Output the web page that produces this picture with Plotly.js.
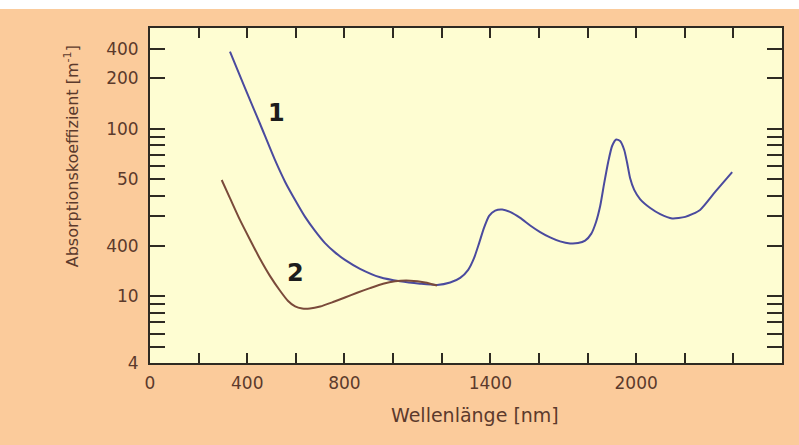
<!DOCTYPE html>
<html>
<head>
<meta charset="utf-8">
<script src="https://cdn.plot.ly/plotly-3.0.1.min.js"></script>
<style>html,body{margin:0;padding:0;background:#fff;}#chart{width:799px;height:445px;}</style>
</head>
<body>
<div id="chart"></div>
<script>
// Curve 1 (blue)
const wavelength1 = [329, 391, 453, 514, 556, 597, 638, 679, 720, 761, 802, 864, 947, 1029, 1111, 1181, 1235, 1276, 1309, 1333, 1354, 1374, 1395, 1420, 1449, 1481, 1523, 1564, 1605, 1646, 1687, 1728, 1761, 1790, 1815, 1835, 1852, 1868, 1885, 1901, 1918, 1934, 1951, 1963, 1975, 1992, 2016, 2058, 2099, 2148, 2202, 2263, 2325, 2395];
const absorption1 = [289, 175, 106.9, 65.2, 48.2, 37.6, 29.8, 24.6, 20.8, 18.3, 16.5, 14.6, 13.0, 12.3, 11.9, 11.7, 12.1, 12.9, 14.4, 16.9, 20.8, 25.6, 30.2, 32.5, 33.0, 31.9, 29.4, 26.5, 24.2, 22.5, 21.3, 20.7, 20.8, 21.5, 23.6, 27.8, 34.6, 46.9, 63.4, 79.0, 86.4, 84.6, 74.8, 62.5, 50.9, 43.2, 38.1, 33.7, 31.0, 29.2, 29.8, 32.8, 42.0, 55.2];
// Curve 2 (brown)
const wavelength2 = [295, 329, 370, 412, 453, 494, 535, 568, 597, 626, 658, 700, 753, 802, 852, 905, 959, 1008, 1070, 1132, 1181];
const absorption2 = [49.5, 38.6, 28.6, 21.7, 16.7, 13.2, 10.8, 9.38, 8.70, 8.46, 8.46, 8.70, 9.25, 9.84, 10.5, 11.2, 11.9, 12.3, 12.4, 12.1, 11.6];

const xTickVals = [0, 200, 400, 600, 800, 1000, 1200, 1400, 1600, 1800, 2000, 2200, 2400];
const xTickText = ["0", "", "400", "", "800", "", "", "1400", "", "", "2000", "", ""];
const yTickVals = [4, 5, 6, 7, 8, 9, 10, 20, 30, 40, 50, 60, 70, 80, 90, 100, 200, 300];
const yTickText = ["4", "", "", "", "", "", "10", "400", "", "", "50", "", "", "", "", "100", "200", "400"];

const curveLabels = ["1", "2"];
const labelX = [520, 600];
const labelY = [124, 13.7];

const xTitle = "Wellenlänge [nm]";
const yTitle = "Absorptionskoeffizient [m<sup>-1</sup>]";

const textColor = "#5b3a2c";
const axisColor = "#2e2a22";

const traces = [
  {x: wavelength1, y: absorption1, mode: "lines", type: "scatter",
   line: {color: "#4a4a9e", width: 2, shape: "spline", smoothing: 0.6}, hoverinfo: "skip"},
  {x: wavelength2, y: absorption2, mode: "lines", type: "scatter",
   line: {color: "#7a4a3a", width: 2, shape: "spline", smoothing: 0.6}, hoverinfo: "skip"}
];

const annotations = curveLabels.map((t, i) => ({
  x: labelX[i], y: Math.log10(labelY[i]), xref: "x", yref: "y", text: t, showarrow: false,
  xanchor: "center", yanchor: "middle",
  font: {family: "DejaVu Sans", size: 24, color: "#1c1c1c", weight: "bold"}
}));
annotations.push({
  x: 0.514, y: -0.155, xref: "paper", yref: "paper", text: xTitle, showarrow: false,
  xanchor: "center", yanchor: "middle",
  font: {family: "DejaVu Sans", size: 19, color: textColor}
});
annotations.push({
  x: -0.123, y: 0.618, xref: "paper", yref: "paper", text: yTitle, showarrow: false,
  textangle: -90, xanchor: "center", yanchor: "middle",
  font: {family: "DejaVu Sans", size: 16, color: textColor}
});

const layout = {
  width: 799, height: 445,
  margin: {l: 150, r: 17, t: 28, b: 82, pad: 0},
  paper_bgcolor: "#fbcb9b",
  plot_bgcolor: "#fefdd2",
  showlegend: false,
  xaxis: {
    range: [0, 2600], tickmode: "array", tickvals: xTickVals, ticktext: xTickText,
    ticks: "inside", ticklen: 10, tickwidth: 2, tickcolor: axisColor,
    showline: true, linecolor: axisColor, linewidth: 2, mirror: "allticks",
    showgrid: false, zeroline: false, ticklabelstandoff: 4,
    tickfont: {family: "DejaVu Sans", size: 17, color: textColor}
  },
  yaxis: {
    type: "log", range: [Math.log10(4), Math.log10(400)],
    tickmode: "array", tickvals: yTickVals, ticktext: yTickText,
    ticks: "inside", ticklen: 15, tickwidth: 2, tickcolor: axisColor,
    showline: true, linecolor: axisColor, linewidth: 2, mirror: "allticks",
    showgrid: false, zeroline: false, ticklabelstandoff: 6,
    tickfont: {family: "DejaVu Sans", size: 17, color: textColor}
  },
  annotations: annotations,
  shapes: [
    {type: "rect", xref: "paper", yref: "paper", x0: -0.5, x1: 1.5, y0: 1.0567, y1: 1.3,
     fillcolor: "#ffffff", line: {width: 0}, layer: "above"}
  ]
};

Plotly.newPlot("chart", traces, layout, {displayModeBar: false, staticPlot: true});
</script>
</body>
</html>
